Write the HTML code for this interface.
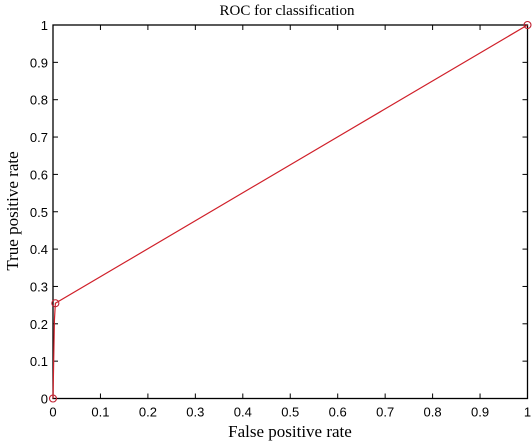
<!DOCTYPE html>
<html><head><meta charset="utf-8"><style>
html,body{margin:0;padding:0;background:#fff;width:532px;height:444px;overflow:hidden}
</style></head><body>
<svg id="chart" width="532" height="444" xmlns="http://www.w3.org/2000/svg"></svg>
<script>
const fprValues = [0, 0.003, 0.005, 1];
const tprValues = [0, 0.21, 0.255, 1];
const markerFpr = [0, 0.005, 1];
const markerTpr = [0, 0.255, 1];
const xTickLabels = ["0","0.1","0.2","0.3","0.4","0.5","0.6","0.7","0.8","0.9","1"];
const yTickLabels = ["0","0.1","0.2","0.3","0.4","0.5","0.6","0.7","0.8","0.9","1"];

const L=53,R=527.5,T=25,B=398.5;
const xs=v=>L+v*(R-L), ys=v=>B-v*(B-T);
const svg=document.getElementById('chart');
const NS='http://www.w3.org/2000/svg';
function mk(tag,attrs,parent){const e=document.createElementNS(NS,tag);for(const k in attrs)e.setAttribute(k,attrs[k]);(parent||svg).appendChild(e);return e;}

const box=mk('rect',{x:L,y:T,width:R-L,height:B-T,fill:'none',stroke:'#000','stroke-width':1.3});



xTickLabels.forEach((t,i)=>{
  const v=i/10,x=xs(v);
  const g=mk('g',{});
  
  
  mk('line',{x1:x,x2:x,y1:B,y2:B-5,stroke:'#000'},g);
  mk('line',{x1:x,x2:x,y1:T,y2:T+5,stroke:'#000'},g);
  const tx=mk('text',{x:x,y:B+18,'text-anchor':'middle','font-family':'Liberation Sans, sans-serif','font-size':13},g);
  tx.textContent=t;
});
yTickLabels.forEach((t,i)=>{
  const v=i/10,y=ys(v);
  const g=mk('g',{});
  
  
  mk('line',{x1:L,x2:L+5,y1:y,y2:y,stroke:'#000'},g);
  mk('line',{x1:R,x2:R-5,y1:y,y2:y,stroke:'#000'},g);
  const tx=mk('text',{x:L-5,y:y+5,'text-anchor':'end','font-family':'Liberation Sans, sans-serif','font-size':13},g);
  tx.textContent=t;
});

const pts=fprValues.map((f,i)=>xs(f)+','+ys(tprValues[i])).join(' ');
const line=mk('polyline',{points:pts,fill:'none',stroke:'#d0202a','stroke-width':1.2});


markerFpr.forEach((f,i)=>{
  const c=mk('circle',{cx:xs(f),cy:ys(markerTpr[i]),r:3.5,fill:'none',stroke:'#c02030','stroke-width':1.1});
  
  
});

const title=mk('text',{x:287,y:15,'text-anchor':'middle','font-family':'Liberation Serif, serif','font-size':15});
title.textContent='ROC for classification';


const xl=mk('text',{x:290,y:437,'text-anchor':'middle','font-family':'Liberation Serif, serif','font-size':17});
xl.textContent='False positive rate';


const yl=mk('text',{x:0,y:0,'text-anchor':'middle','font-family':'Liberation Serif, serif','font-size':17,transform:'translate(18,211) rotate(-90)'});
yl.textContent='True positive rate';


</script>
</body></html>
